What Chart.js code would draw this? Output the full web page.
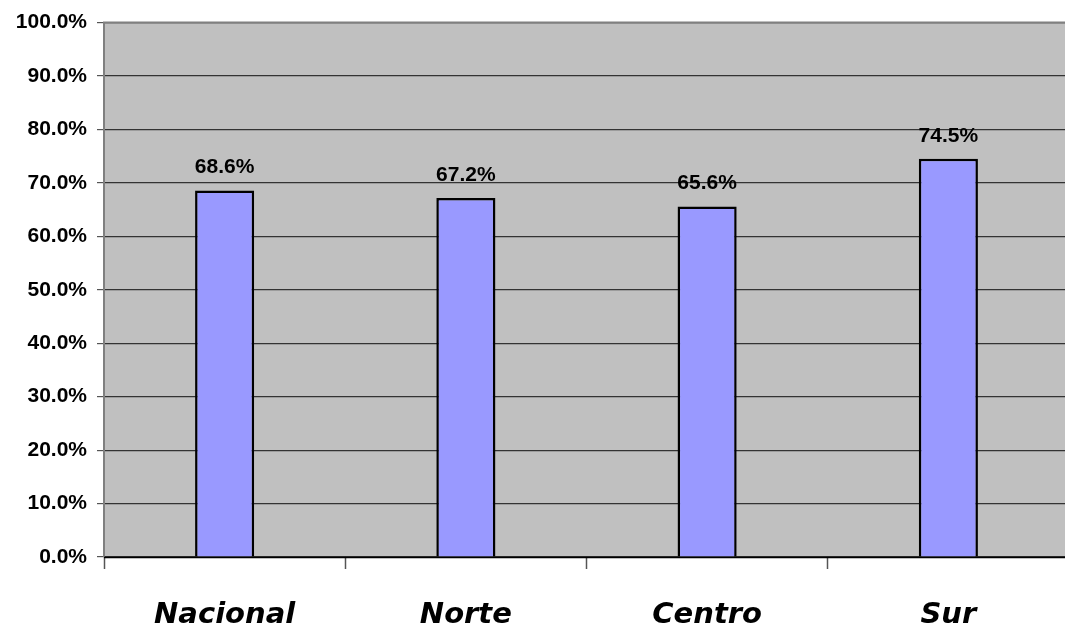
<!DOCTYPE html>
<html>
<head>
<meta charset="utf-8">
<script src="https://cdn.jsdelivr.net/npm/chart.js@4.4.1/dist/chart.umd.min.js"></script>
<style>
  html, body { margin: 0; padding: 0; background: #fff; overflow: hidden; }
  #wrap { width: 1065px; height: 626px; overflow: hidden; }
</style>
</head>
<body>
<div id="wrap"><canvas id="chart" width="1070" height="626"></canvas></div>
<script>
  // ─── Data ──────────────────────────────────────────────
  var categories = ['Nacional', 'Norte', 'Centro', 'Sur'];
  var values = [68.6, 67.2, 65.6, 74.5];

  // plot background + frame
  var plotFrame = {
    id: 'plotFrame',
    beforeDraw: function (chart) {
      var a = chart.chartArea, c = chart.ctx;
      c.save();
      c.fillStyle = '#C0C0C0';
      c.fillRect(a.left, a.top, a.right - a.left, a.bottom - a.top);
      c.restore();
    },
    afterDraw: function (chart) {
      var a = chart.chartArea, c = chart.ctx;
      c.save();
      c.strokeStyle = '#808080';
      c.lineWidth = 2;
      c.beginPath();
      c.moveTo(a.left, a.bottom);
      c.lineTo(a.left, a.top);
      c.lineTo(a.right + 2, a.top);
      c.stroke();
      c.strokeStyle = '#000';
      c.lineWidth = 1.5;
      c.beginPath();
      c.moveTo(a.left, a.bottom + 0.5);
      c.lineTo(a.right + 2, a.bottom + 0.5);
      c.stroke();
      c.restore();
    }
  };

  // value labels above bars
  var valueLabels = {
    id: 'valueLabels',
    afterDatasetsDraw: function (chart) {
      var c = chart.ctx;
      var meta = chart.getDatasetMeta(0);
      c.save();
      c.font = 'bold 21px "Liberation Sans", Arial, sans-serif';
      c.fillStyle = '#000';
      c.textAlign = 'center';
      c.textBaseline = 'alphabetic';
      meta.data.forEach(function (bar, i) {
        c.fillText(values[i].toFixed(1) + '%', bar.x, bar.y - 17);
      });
      c.restore();
    }
  };

  new Chart(document.getElementById('chart'), {
    type: 'bar',
    data: {
      labels: categories,
      datasets: [{
        data: values,
        backgroundColor: '#9999FF',
        borderColor: '#000',
        borderWidth: 2.5,
        barPercentage: 0.245,
        categoryPercentage: 1.0,
      }],
    },
    options: {
      responsive: false,
      animation: false,
      layout: { padding: { top: 17, right: 1, left: 0, bottom: 0 } },
      plugins: {
        legend: { display: false },
        tooltip: { enabled: false },
      },
      scales: {
        x: {
          offset: true,
          grid: {
            offset: true,
            drawOnChartArea: false,
            tickLength: 12,
            tickWidth: 1.5,
            tickColor: '#555',
          },
          border: { display: false },
          ticks: {
            color: '#000',
            padding: 29,
            font: { family: '"DejaVu Sans", sans-serif', size: 29, weight: 'bold', style: 'italic' },
          },
          afterFit: function (scale) { scale.height = 69; },
        },
        y: {
          min: 0,
          max: 100,
          ticks: {
            stepSize: 10,
            color: '#000',
            padding: 10,
            font: { family: '"Liberation Sans", Arial, sans-serif', size: 21, weight: 'bold' },
            callback: function (v) { return v.toFixed(1) + '%'; },
          },
          grid: {
            color: '#333',
            lineWidth: 1.2,
            tickLength: 7,
            tickColor: '#555',
          },
          border: { display: false },
          afterFit: function (scale) { scale.width = 104; },
        },
      },
    },
    plugins: [plotFrame, valueLabels],
  });
</script>
</body>
</html>
